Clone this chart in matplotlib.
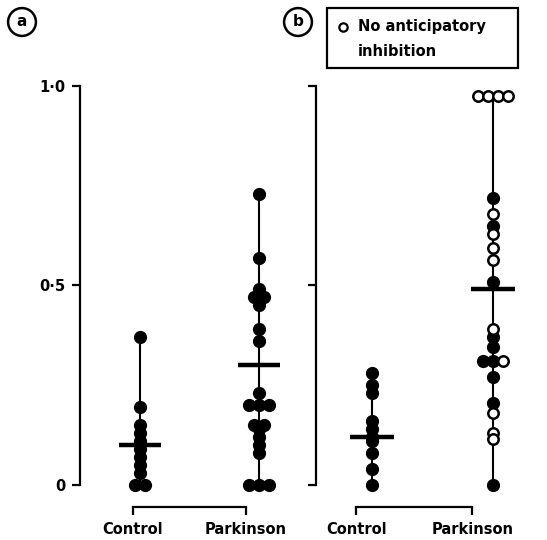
"""
Anticipatory inhibition in control vs Parkinson subjects, panels (a) and (b).
Dots are individual subjects, horizontal bar = group mean.
"""

import matplotlib
matplotlib.use("Agg")
import matplotlib.pyplot as plt
from matplotlib.lines import Line2D
from matplotlib.patches import Rectangle
import numpy as np

plt.rcParams["font.family"] = ["DejaVu Sans"]
plt.rcParams["font.weight"] = "bold"

GROUPS = ["Control", "Parkinson"]
YTICKS = [0.0, 0.5, 1.0]
YTICK_LABELS = ["0", "0·5", "1·0"]

# panel (a)
A_CONTROL = [0.37, 0.195, 0.15, 0.13, 0.11, 0.09, 0.07, 0.05, 0.03, 0.0, 0.0]
A_PARKINSON = [0.73, 0.57, 0.49, 0.47, 0.47, 0.45, 0.39, 0.36, 0.23,
               0.20, 0.20, 0.20, 0.15, 0.15, 0.14, 0.12, 0.10, 0.08,
               0.0, 0.0, 0.0]
A_MEANS = [0.10, 0.30]

# panel (b) — open circles = no anticipatory inhibition
B_CONTROL = [0.28, 0.25, 0.23, 0.16, 0.14, 0.12, 0.11, 0.08, 0.04, 0.0]
B_PARK_FILLED = [0.72, 0.65, 0.51, 0.37, 0.345, 0.31, 0.31, 0.27, 0.205, 0.0]
B_PARK_OPEN = [0.975, 0.975, 0.975, 0.975, 0.68, 0.63, 0.595, 0.565,
               0.39, 0.31, 0.18, 0.13, 0.115]
B_MEANS = [0.12, 0.49]

W, H = 547, 540
DOT = 8.5       # marker size (pt)
STEP = 0.085    # horizontal spacing of coincident dots (data units)


def spread(values, step=STEP):
    """Offsets so that equal values sit side by side instead of on top of each other."""
    values = np.asarray(values)
    off = np.zeros(len(values))
    for v in np.unique(values):
        idx = np.where(values == v)[0]
        off[idx] = (np.arange(len(idx)) - (len(idx) - 1) / 2) * step
    return off


def column(ax, x, filled, opened, mean):
    allv = list(filled) + list(opened)
    ax.plot([x, x], [min(allv), max(allv)], color="black", lw=1.5, zorder=1)
    off = spread(allv)
    nf = len(filled)
    ax.plot(x + off[:nf], filled, "o", ms=DOT, mfc="black", mec="black",
            clip_on=False, zorder=3)
    if opened:
        ax.plot(x + off[nf:], opened, "o", ms=DOT - 1, mfc="white", mec="black",
                mew=1.8, clip_on=False, zorder=3)
    ax.plot([x - 0.18, x + 0.18], [mean, mean], color="black", lw=3.2,
            solid_capstyle="butt", zorder=4)


def style(ax, xlim, ticks, ylabels):
    ax.set_xlim(*xlim)
    ax.set_ylim(-0.0551, 1.015)
    for s in ("top", "right"):
        ax.spines[s].set_visible(False)
    ax.spines["left"].set_bounds(0, 1)
    ax.spines["bottom"].set_bounds(ticks[0], ticks[1])
    for s in ("left", "bottom"):
        ax.spines[s].set_linewidth(1.6)
    ax.set_yticks(YTICKS)
    ax.set_yticklabels(YTICK_LABELS if ylabels else [])
    ax.set_xticks(ticks)
    ax.set_xticklabels(GROUPS)
    ax.tick_params(axis="y", direction="out", length=5.5, width=1.6, pad=5,
                   labelsize=10.5)
    ax.tick_params(axis="x", direction="out", length=6, width=1.6, pad=5,
                   labelsize=10.5)
    ax.set_facecolor("none")


def main() -> None:
    fig = plt.figure(figsize=(W / 100, H / 100), dpi=100)
    bottom, height = (H - 507) / H, 427 / H
    ax_a = fig.add_axes([80 / W, bottom, 220 / W, height])
    ax_b = fig.add_axes([316 / W, bottom, 224 / W, height])

    column(ax_a, 0, A_CONTROL, [], A_MEANS[0])
    column(ax_a, 1, A_PARKINSON, [], A_MEANS[1])
    style(ax_a, (-0.504, 1.345), (-0.06, 0.89), True)

    column(ax_b, 0, B_CONTROL, [], B_MEANS[0])
    column(ax_b, 1, B_PARK_FILLED, B_PARK_OPEN, B_MEANS[1])
    style(ax_b, (-0.463, 1.388), (-0.13, 0.83), False)

    # circled panel letters
    circ = dict(boxstyle="circle,pad=0.42", fc="white", ec="black", lw=1.8)
    fig.text(22 / W, 1 - 22 / H, "a", ha="center", va="center", fontsize=11,
             bbox=circ)
    fig.text(298 / W, 1 - 22 / H, "b", ha="center", va="center", fontsize=11,
             bbox=circ)

    # legend box
    fig.add_artist(Rectangle((327 / W, 1 - 68 / H), 191 / W, 60 / H,
                             transform=fig.transFigure, fill=False,
                             ec="black", lw=1.6))
    fig.add_artist(Line2D([343 / W], [1 - 27 / H], marker="o", ms=6,
                          mfc="white", mec="black", mew=1.6,
                          transform=fig.transFigure))
    fig.text(358 / W, 1 - 27 / H, "No anticipatory", va="center", fontsize=10.5)
    fig.text(358 / W, 1 - 52 / H, "inhibition", va="center", fontsize=10.5)

    fig.savefig("out.png", dpi=100, facecolor="white")


if __name__ == "__main__":
    main()
